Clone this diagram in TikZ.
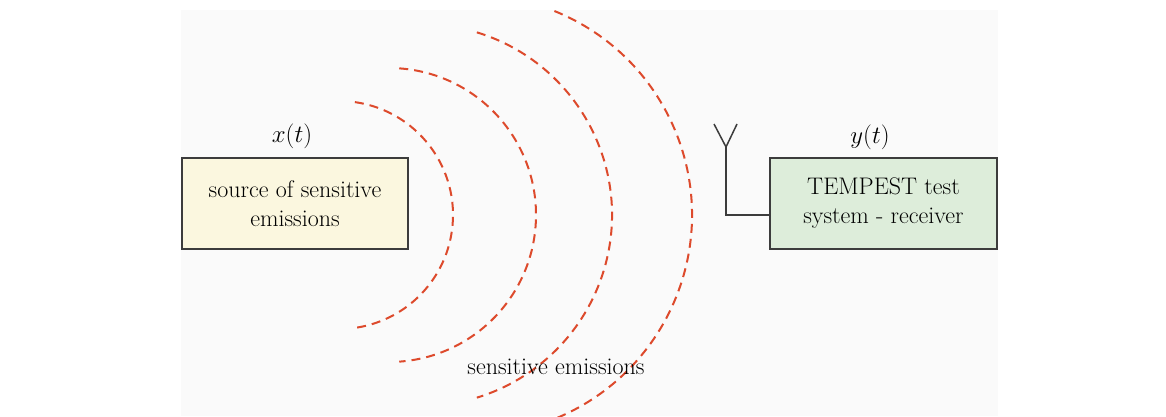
\documentclass[tikz,border=0pt]{standalone}
\usepackage{amsmath}
\usepackage{tikz}

\definecolor{corFundo}{HTML}{FAFAFA}
\definecolor{corFonte}{HTML}{FBF7DF}
\definecolor{corReceptor}{HTML}{DDEDDA}
\definecolor{corBorda}{HTML}{3C3C3C}
\definecolor{corOnda}{HTML}{DD4A2C}

\begin{document}
\begin{tikzpicture}[x=1pt,y=1pt,
		caixa/.style={draw=corBorda, line width=1.5pt, minimum width=226pt, minimum height=91pt, align=center, font=\fontsize{24}{29}\selectfont},
		onda/.style={draw=corOnda, line width=2pt, dash pattern=on 9pt off 6pt},
		fio/.style={draw=corBorda, line width=1.5pt},
		rotulo/.style={font=\fontsize{24}{28}\selectfont}]
		\useasboundingbox (0,0) rectangle (1166,416);
		\clip (0,0) rectangle (1166,416);
		
		% Fundo
		\fill[corFundo] (181,0) rectangle (998,406);
		
		% Ondas emitidas
		\draw[onda] (339,201) ++(82:114) arc[start angle=82, end angle=-83, radius=114];
		\draw[onda] (389,201) ++(86:147) arc[start angle=86, end angle=-86, radius=147];
		\draw[onda] (421,201) ++(73:191) arc[start angle=73, end angle=-73, radius=191];
		\draw[onda] (472,201) ++(68:220) arc[start angle=68, end angle=-70, radius=220];
		
		% Blocos
		\node[caixa, fill=corFonte] (fonte) at (295,212.5) {source of sensitive\\emissions};
		\node[caixa, fill=corReceptor, minimum width=227pt] (receptor) at (883.5,212.5) {TEMPEST test\\system - receiver};
		
		% Sinais
		\node[rotulo] (xt) at (292,280) {$x(t)$};
		\node[rotulo] (yt) at (870,279) {$y(t)$};
		\node[rotulo] (emissoes) at (556,49) {sensitive emissions};
		
		% Antena
		\coordinate (ant) at (726,269);
		\draw[fio] (714,292) -- (ant) -- (737,292);
		\draw[fio] (ant) |- ([yshift=-11.5pt]receptor.west);
	\end{tikzpicture}
\end{document}
